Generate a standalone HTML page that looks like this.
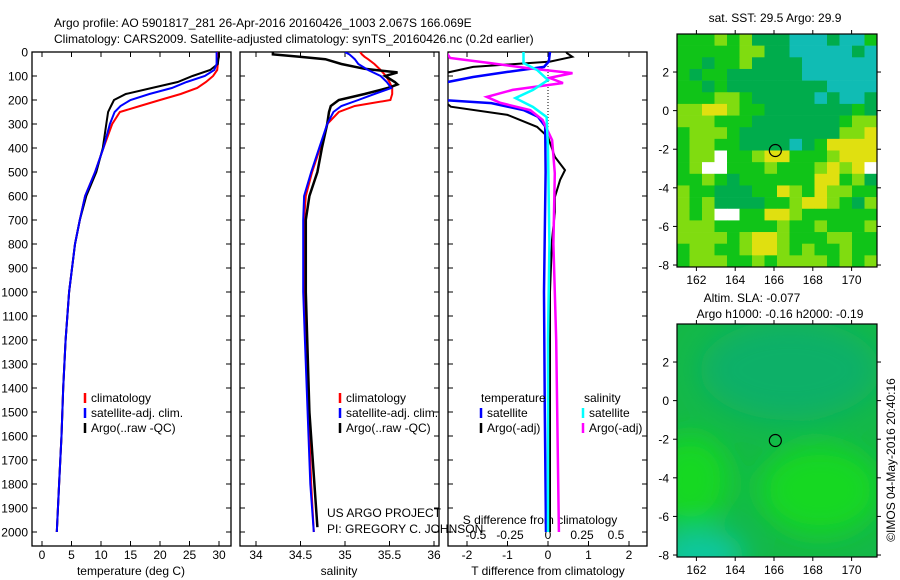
<!DOCTYPE html>
<html><head><meta charset="utf-8"><style>
body{margin:0;background:#fff}
svg{display:block;font-family:"Liberation Sans",sans-serif}
text{font-size:12px;fill:#000}
</style></head><body>
<svg id="c" width="900" height="580" viewBox="0 0 900 580" xmlns="http://www.w3.org/2000/svg">
<defs>
<clipPath id="cp1"><rect x="32" y="52" width="199" height="494"/></clipPath>
<clipPath id="cp2"><rect x="240" y="52" width="199" height="494"/></clipPath>
<clipPath id="cp3"><rect x="448" y="52" width="200" height="494"/></clipPath>
<clipPath id="cpm2"><rect x="677" y="324" width="200" height="233"/></clipPath>
<filter id="bl"><feGaussianBlur stdDeviation="14"/></filter>
</defs>
<text x="54" y="27" font-size="13">Argo profile: AO 5901817_281 26-Apr-2016 20160426_1003 2.067S 166.069E</text>
<text x="54" y="43" font-size="13">Climatology: CARS2009. Satellite-adjusted climatology: synTS_20160426.nc (0.2d earlier)</text>
<g id="g"></g>
<text x="327" y="517">US ARGO PROJECT</text>
<text x="327" y="533">PI: GREGORY C. JOHNSON</text>
<text transform="translate(895,460) rotate(-90)" text-anchor="middle">©IMOS 04-May-2016 20:40:16</text>
</svg>
<script>
const depth=[0,10,20,30,50,75,100,125,150,175,200,225,250,300,400,500,600,700,800,1000,1200,1400,1600,1800,2000];
const tempClim=[29.8,29.8,29.8,29.8,29.8,29.7,29.0,27.8,26.3,23.5,20,16.6,13.2,11.9,10.4,9,7.3,6.4,5.6,4.6,4.0,3.6,3.3,2.9,2.5];
const tempSat=[29.6,29.6,29.6,29.6,29.6,29.2,27.6,24.5,22,18.2,15,13.3,12.3,11.5,10.4,9,7.3,6.4,5.6,4.6,4.0,3.6,3.3,2.9,2.5];
const tempArgo=[30.0,30.0,30.0,29.9,29.8,28.5,25.5,23,18.6,14.2,12.2,11.7,11.2,10.9,10.3,9.2,7.5,6.4,5.6,4.6,4.0,3.6,3.3,2.9,2.5];
const salClim=[35.17,35.19,35.22,35.26,35.33,35.40,35.46,35.5,35.53,35.53,35.51,35.11,34.93,34.8,34.72,34.63,34.56,34.54,34.54,34.55,34.56,34.58,34.6,34.62,34.65];
const salSat=[35.0,35.05,35.08,35.11,35.15,35.26,35.4,35.47,35.52,35.33,35.15,34.96,34.87,34.8,34.71,34.62,34.54,34.53,34.53,34.53,34.55,34.57,34.59,34.61,34.65];
const salArgoDepth=[0,10,20,30,50,70,85,100,125,135,150,175,200,225,250,300,400,500,600,700,1000,1500,1980];
const salArgo=[34.19,34.19,34.49,34.78,34.96,35.22,35.59,35.45,35.56,35.59,35.48,35.22,34.93,34.84,34.82,34.8,34.74,34.69,34.6,34.56,34.56,34.6,34.69];
const tdDepth=[0,5,20,40,62,90,200,228,262,312,354,437,492,533,604,667,783,1000,1500,2000];
const tdArgo=[0.45,0.47,0.6,0.05,-1.85,-2.6,-2.6,-2.4,-1.0,-0.27,0,0.17,0.42,0.3,0.17,0.17,0.1,0.05,0.05,0.05];
const tdSatDepth=[0,40,62,83,104,129,200,213,242,270,310,500,1000,1500,2000];
const tdSat=[0.05,0.02,-0.1,-1,-1.85,-2.6,-2.6,-1.4,-0.6,-0.25,-0.07,-0.06,-0.1,-0.08,-0.05];
const sdDepth=[0,25,46,67,88,108,129,158,187,212,242,283,367,505,800,1200,2000];
const sdArgo=[-0.75,-0.72,-0.43,-0.15,0.18,0.01,0.11,-0.26,-0.45,-0.35,-0.13,-0.04,0.03,0.05,0.04,0.06,0.08];
const sdSatDepth=[0,46,75,117,158,192,229,271,400,800,1200,2000];
const sdSat=[-0.18,-0.18,-0.08,0,-0.11,-0.24,-0.11,-0.01,0,0.01,0,0];
const depthTicks=[0,100,200,300,400,500,600,700,800,900,1000,1100,1200,1300,1400,1500,1600,1700,1800,1900,2000];
const tTicks=[0,5,10,15,20,25,30];
const sTicks=[34,34.5,35,35.5,36];
const tdTicks=[-2,-1,0,1,2];
const sdTicks=[-0.5,-0.25,0,0.25,0.5];
const lonTicks=[162,164,166,168,170];
const latTicks=[2,0,-2,-4,-6,-8];
const sstRows=["ggglgldddtttdttg","gggggllddtttttdt","ggdgglddddtttttt","gdggddddddtttttt","ggdgddddddddtttt","gggllgdddddtdttd","llyylggdddddddgd","lllgggdddddddgll","glllgddddddddlly","gllggddddtdgyyyy","gllwgglyyggglyyy","glwwggglggglylyw","gglgdggggggyygld","lggdddggylgyllgg","lglddddgglyylgdl","lglwwggyylgggggg","lllggggglgglgggl","llllglyylgggllgg","gllgglyylglgglgg","glllgglgllllglgl"];
const argoLon=166.069, argoLat=-2.067;

const NS="http://www.w3.org/2000/svg";
const G=document.getElementById('g');
function mk(tag,attrs,parent){const e=document.createElementNS(NS,tag);for(const k in attrs)e.setAttribute(k,attrs[k]);(parent||G).appendChild(e);return e;}
const yD=z=>52+z*0.24;
const tx=t=>42+t*5.9;
const sx=s=>256+(s-34)*89;
const dtx=d=>548+d*40.5;
const dsx=d=>548+d*136;
function line(xs,ds,fx,color,w,clip,name){
  const pts=xs.map((v,i)=>fx(v).toFixed(1)+','+yD(ds[i]).toFixed(1)).join(' ');
  const p=mk('polyline',{points:pts,fill:'none',stroke:color,'stroke-width':w,'clip-path':'url(#'+clip+')'});
  
  
}
function panel(x0,name){
  const r=mk('rect',{x:x0,y:52,width:199,height:494,fill:'none',stroke:'#000','stroke-width':1.3});
  
  
  depthTicks.forEach(d=>{mk('line',{x1:x0,x2:x0+5,y1:yD(d),y2:yD(d),stroke:'#000'});mk('line',{x1:x0+194,x2:x0+199,y1:yD(d),y2:yD(d),stroke:'#000'});});
}
panel(32,'temperature-panel');panel(240,'salinity-panel');panel(448,'difference-panel');
depthTicks.forEach(d=>{const t=mk('text',{x:28,y:yD(d)+4.5,'text-anchor':'end'});t.textContent=d;

});
function xt(ticks,fx){ticks.forEach(v=>{const X=fx(v);mk('line',{x1:X,x2:X,y1:52,y2:57,stroke:'#000'});mk('line',{x1:X,x2:X,y1:541,y2:546,stroke:'#000'});
const t=mk('text',{x:X,y:559,'text-anchor':'middle'});t.textContent=v;

});}
xt(tTicks,tx);xt(sTicks,sx);xt(tdTicks,dtx);
sdTicks.forEach(v=>{const t=mk('text',{x:dsx(v)-(v<0?4:0),y:539,'text-anchor':'middle'});t.textContent=v;

});
[['temperature (deg C)',131],['salinity',339],['T difference from climatology',548]].forEach(a=>{const t=mk('text',{x:a[1],y:575,'text-anchor':'middle'});t.textContent=a[0];

});
const st=mk('text',{x:540,y:524,'text-anchor':'middle'});st.textContent='S difference from climatology';


mk('line',{x1:548,x2:548,y1:60,y2:140,stroke:'#000','stroke-dasharray':'1,2'});
line(tempClim,depth,tx,'#f00',2,'cp1','temp-climatology-line');
line(tempArgo,depth,tx,'#000',2,'cp1','temp-argo-line');
line(tempSat,depth,tx,'#00f',2,'cp1','temp-satellite-line');
line(salClim,depth,sx,'#f00',2,'cp2','sal-climatology-line');
line(salArgo,salArgoDepth,sx,'#000',2.5,'cp2','sal-argo-line');
line(salSat,depth,sx,'#00f',2,'cp2','sal-satellite-line');
line(tdArgo,tdDepth,dtx,'#000',2,'cp3','tdiff-argo-line');
line(tdSat,tdSatDepth,dtx,'#00f',2.5,'cp3','tdiff-satellite-line');
line(sdArgo,sdDepth,dsx,'#f0f',2.5,'cp3','sdiff-argo-line');
line(sdSat,sdSatDepth,dsx,'#0ff',2.5,'cp3','sdiff-satellite-line');
function leg(x,y,c,txt){mk('line',{x1:x,x2:x,y1:y-9,y2:y+1,stroke:c,'stroke-width':2.5});const t=mk('text',{x:x+6,y:y});t.textContent=txt;

}
[[85,'#f00','climatology'],[85,'#00f','satellite-adj. clim.'],[85,'#000','Argo(..raw -QC)']].forEach((a,i)=>leg(a[0],402+i*15,a[1],a[2]));
[[340,'#f00','climatology'],[340,'#00f','satellite-adj. clim.'],[340,'#000','Argo(..raw -QC)']].forEach((a,i)=>leg(a[0],402+i*15,a[1],a[2]));
let t1=mk('text',{x:481,y:402});t1.textContent='temperature';


let t2=mk('text',{x:584,y:402});t2.textContent='salinity';


leg(481,417,'#00f','satellite');leg(481,432,'#000','Argo(-adj)');
leg(583,417,'#0ff','satellite');leg(583,432,'#f0f','Argo(-adj)');
const mx=lon=>677+(lon-161)*19.4;
const myTop=lat=>34+(3.97-lat)*19.3;
const myBot=lat=>324+(3.97-lat)*19.3;
const pal={g:'#10c418',d:'#00ac4c',t:'#10bcb4',y:'#e0e010',l:'#80dc10',w:'#ffffff'};
const cw=200/16,ch=233/20;
sstRows.forEach((row,r)=>{[...row].forEach((c,k)=>{const e=mk('rect',{x:677+k*cw,y:34+r*ch,width:cw+0.3,height:ch+0.3,fill:pal[c]});

});});
const sg=mk('g',{'clip-path':'url(#cpm2)'});


mk('rect',{x:677,y:324,width:200,height:233,fill:'#14b848'},sg);
const bg=mk('g',{filter:'url(#bl)'},sg);
mk('ellipse',{cx:790,cy:370,rx:90,ry:50,fill:'#10b068'},bg);
mk('ellipse',{cx:690,cy:480,rx:40,ry:45,fill:'#18d820'},bg);
mk('ellipse',{cx:820,cy:490,rx:60,ry:45,fill:'#18d820'},bg);
mk('ellipse',{cx:700,cy:555,rx:45,ry:25,fill:'#10c8a0'},bg);
function mapFrame(y0,myf,name){
  const r=mk('rect',{x:677,y:y0,width:200,height:233,fill:'none',stroke:'#000','stroke-width':1.2});
  
  
  lonTicks.forEach(v=>{const X=mx(v);mk('line',{x1:X,x2:X,y1:y0-4,y2:y0,stroke:'#000'});mk('line',{x1:X,x2:X,y1:y0+233,y2:y0+237,stroke:'#000'});
  const t=mk('text',{x:X,y:y0+250,'text-anchor':'middle'});t.textContent=v;
  
  });
  latTicks.forEach(v=>{const Y=myf(v);mk('line',{x1:673,x2:677,y1:Y,y2:Y,stroke:'#000'});mk('line',{x1:877,x2:881,y1:Y,y2:Y,stroke:'#000'});
  const t=mk('text',{x:669,y:Y+4.5,'text-anchor':'end'});t.textContent=v;
  
  });
  const c=mk('circle',{cx:mx(argoLon),cy:myf(argoLat),r:6,fill:'none',stroke:'#000','stroke-width':1.2});
  
  
}
mapFrame(34,myTop,'sst-map-frame');mapFrame(324,myBot,'sla-map-frame');
[['sat. SST: 29.5 Argo: 29.9',775,22],['Altim. SLA: -0.077',752,302],['Argo h1000: -0.16 h2000: -0.19',780,318]].forEach(a=>{const t=mk('text',{x:a[1],y:a[2],'text-anchor':'middle'});t.textContent=a[0];

});
</script>
</body></html>
